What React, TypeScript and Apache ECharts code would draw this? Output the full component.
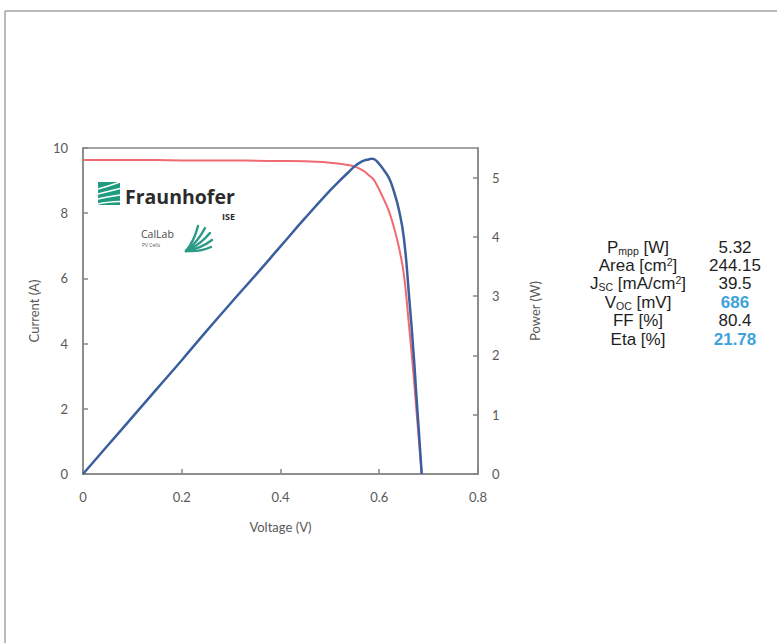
import React, { useEffect, useRef } from "react";
import * as echarts from "echarts";

// Voltage (V) sample points
const voltage = [0, 0.05, 0.1, 0.15, 0.2, 0.25, 0.3, 0.35, 0.4, 0.45, 0.5, 0.52, 0.54, 0.55, 0.56, 0.57, 0.58, 0.585, 0.59, 0.6, 0.61, 0.62, 0.63, 0.64, 0.65, 0.66, 0.67, 0.675, 0.68, 0.686];
// Current (A) — red I-V curve
const current = [9.63, 9.63, 9.63, 9.63, 9.62, 9.62, 9.62, 9.61, 9.6, 9.59, 9.55, 9.52, 9.47, 9.43, 9.37, 9.28, 9.15, 9.09, 9.0, 8.72, 8.4, 8.05, 7.55, 6.95, 6.1, 4.6, 2.95, 2.0, 1.1, 0];
// Power (W) — blue P-V curve
const power = [0, 0.48, 0.96, 1.44, 1.92, 2.41, 2.89, 3.36, 3.84, 4.32, 4.78, 4.95, 5.11, 5.19, 5.25, 5.29, 5.31, 5.32, 5.31, 5.23, 5.12, 4.99, 4.76, 4.45, 3.97, 3.04, 1.98, 1.35, 0.75, 0];

const xTicks = { min: 0, max: 0.8, interval: 0.2 };
const leftTicks = { min: 0, max: 10, interval: 2 };
const rightTicks = { min: 0, max: 5.5, interval: 1 };

// Parameter table
const paramLabels = [
  "{m|P}{s|mpp}{m| [W]}",
  "{m|Area [cm}{p|2}{m|]}",
  "{m|J}{s|SC}{m| [mA/cm}{p|2}{m|]}",
  "{m|V}{s|OC}{m| [mV]}",
  "{m|FF [%]}",
  "{m|Eta [%]}",
];
const paramValues = ["5.32", "244.15", "39.5", "686", "80.4", "21.78"];
const paramHighlight = [false, false, false, true, false, true];

const AXIS_COLOR = "#868686";
const LABEL_COLOR = "#595959";
const FONT = "Lato, 'Open Sans', sans-serif";

export default function App() {
  const ref = useRef<HTMLDivElement>(null);

  useEffect(() => {
    if (!ref.current) return;
    const chart = echarts.init(ref.current, undefined, { renderer: "svg" });

    const ivData = voltage.map((v, i) => [v, current[i]]);
    const pvData = voltage.map((v, i) => [v, power[i]]);

    const rowY0 = 247;
    const rowStep = 18.4;
    const tableTexts: any[] = [];
    paramLabels.forEach((lab, i) => {
      tableTexts.push({
        type: "text",
        x: 638,
        y: rowY0 + i * rowStep,
        style: {
          text: lab,
          align: "center",
          verticalAlign: "middle",
          fontFamily: "'Liberation Sans', Arial, sans-serif",
          rich: {
            m: { fontSize: 17, lineHeight: 18, fill: "#1e1e1e", verticalAlign: "middle" },
            s: { fontSize: 10.5, lineHeight: 18, fill: "#1e1e1e", verticalAlign: "bottom" },
            p: { fontSize: 10.5, lineHeight: 18, fill: "#1e1e1e", verticalAlign: "top" },
          },
        },
      });
      tableTexts.push({
        type: "text",
        x: 735,
        y: rowY0 + i * rowStep,
        style: {
          text: paramValues[i],
          align: "center",
          verticalAlign: "middle",
          fontFamily: "'Liberation Sans', Arial, sans-serif",
          fontSize: 17,
          lineHeight: 18,
          fontWeight: paramHighlight[i] ? "bold" : "normal",
          fill: paramHighlight[i] ? "#3ea2da" : "#1e1e1e",
        },
      });
    });

    // Fraunhofer logo pieces
    const logoGreen = "#1f9c7f";
    const stripes: any[] = [];
    const stripeYs = [186, 191, 196, 201];
    stripeYs.forEach((y, k) => {
      stripes.push({
        type: "bezierCurve",
        shape: { x1: 98, y1: y + 3, cpx1: 106, cpy1: y + 1, x2: 120, y2: y - 4 + k * 1.5 },
        style: { stroke: "#ffffff", lineWidth: 1.4, fill: "none" },
      });
    });
    const fan: any[] = [];
    const fanEnds = [
      [198, 226],
      [205, 228],
      [210, 233],
      [212, 240],
      [211, 247],
    ];
    fanEnds.forEach(([ex, ey]) => {
      fan.push({
        type: "bezierCurve",
        shape: { x1: 186, y1: 251, cpx1: (186 + ex) / 2 + 2, cpy1: (251 + ey) / 2 + 3, x2: ex, y2: ey },
        style: { stroke: "#2a9a86", lineWidth: 2.4, fill: "none", lineCap: "round" },
      });
    });

    chart.setOption({
      animation: false,
      backgroundColor: "#ffffff",
      grid: {
        left: 83,
        right: 299,
        top: 148,
        bottom: 169,
        show: true,
        borderColor: AXIS_COLOR,
        borderWidth: 1.5,
        backgroundColor: "transparent",
      },
      xAxis: {
        type: "value",
        min: xTicks.min,
        max: xTicks.max,
        interval: xTicks.interval,
        name: "Voltage (V)",
        nameLocation: "middle",
        nameGap: 46,
        nameTextStyle: { color: LABEL_COLOR, fontSize: 13, fontFamily: FONT },
        axisLine: { show: true, lineStyle: { color: AXIS_COLOR, width: 1.5 } },
        axisTick: { show: true, inside: true, length: 5, lineStyle: { color: AXIS_COLOR, width: 1.5 } },
        axisLabel: { color: LABEL_COLOR, fontSize: 13, fontFamily: FONT, margin: 16 },
        splitLine: { show: false },
      },
      yAxis: [
        {
          type: "value",
          min: leftTicks.min,
          max: leftTicks.max,
          interval: leftTicks.interval,
          position: "left",
          name: "Current (A)",
          nameLocation: "middle",
          nameGap: 43,
          nameTextStyle: { color: LABEL_COLOR, fontSize: 13, fontFamily: FONT },
          axisLine: { show: true, lineStyle: { color: AXIS_COLOR, width: 1.5 } },
          axisTick: { show: true, inside: true, length: 5, lineStyle: { color: AXIS_COLOR, width: 1.5 } },
          axisLabel: { color: LABEL_COLOR, fontSize: 13, fontFamily: FONT, margin: 15 },
          splitLine: { show: false },
        },
        {
          type: "value",
          min: rightTicks.min,
          max: rightTicks.max,
          interval: rightTicks.interval,
          position: "right",
          name: "Power (W)",
          nameLocation: "middle",
          nameGap: 50,
          nameRotate: 90,
          nameTextStyle: { color: LABEL_COLOR, fontSize: 13, fontFamily: FONT },
          axisLine: { show: true, lineStyle: { color: AXIS_COLOR, width: 1.5 } },
          axisTick: { show: true, inside: true, length: 5, lineStyle: { color: AXIS_COLOR, width: 1.5 } },
          axisLabel: { color: LABEL_COLOR, fontSize: 13, fontFamily: FONT, margin: 14, showMaxLabel: false },
          splitLine: { show: false },
        },
      ],
      series: [
        {
          name: "Current",
          type: "line",
          data: ivData,
          yAxisIndex: 0,
          showSymbol: false,
          smooth: 0.4,
          lineStyle: { color: "#ef6a72", width: 2 },
          z: 2,
        },
        {
          name: "Power",
          type: "line",
          data: pvData,
          yAxisIndex: 1,
          showSymbol: false,
          smooth: 0.5,
          lineStyle: { color: "#3b5e9e", width: 2.5 },
          z: 3,
        },
      ],
      graphic: [
        { type: "line", shape: { x1: 5, y1: 11, x2: 777, y2: 11 }, style: { stroke: "#a3a3a3", lineWidth: 1.5 } },
        { type: "line", shape: { x1: 5, y1: 11, x2: 5, y2: 643 }, style: { stroke: "#a3a3a3", lineWidth: 1.5 } },
        { type: "rect", shape: { x: 98, y: 182, width: 22, height: 23 }, style: { fill: logoGreen } },
        ...stripes,
        {
          type: "text",
          x: 125,
          y: 196,
          style: {
            text: "Fraunhofer",
            fontFamily: "'Open Sans', Lato, sans-serif",
            fontWeight: "bold",
            fontSize: 19.5,
            fill: "#2b2b2b",
            verticalAlign: "middle",
          },
        },
        {
          type: "text",
          x: 235,
          y: 216,
          style: { text: "ISE", fontFamily: "'Open Sans', sans-serif", fontWeight: "bold", fontSize: 9, fill: "#2b2b2b", align: "right", verticalAlign: "middle" },
        },
        {
          type: "text",
          x: 141,
          y: 234,
          style: { text: "CalLab", fontFamily: "'Open Sans', sans-serif", fontSize: 10.5, fill: "#4a4a4a", verticalAlign: "middle" },
        },
        {
          type: "text",
          x: 142,
          y: 245,
          style: { text: "PV Cells", fontFamily: "'Open Sans', sans-serif", fontSize: 5, fill: "#555555", verticalAlign: "middle" },
        },
        ...fan,
        ...tableTexts,
      ],
    });

    return () => chart.dispose();
  }, []);

  return (
    <div
      ref={ref}
      style={{ position: "absolute", left: 0, top: 0, width: 777, height: 643 }}
    />
  );
}
